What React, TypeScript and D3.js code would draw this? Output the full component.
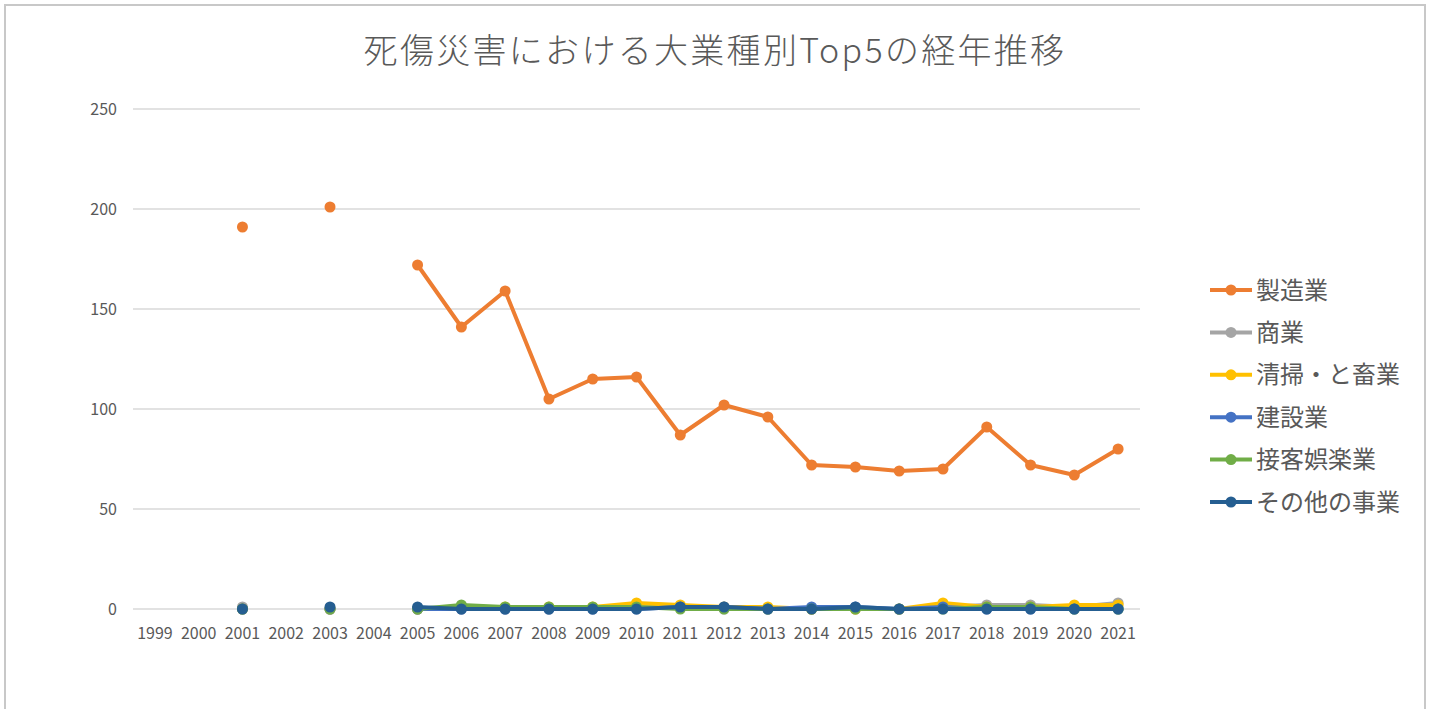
import React, { useEffect, useRef } from "react";
import * as d3 from "d3";

const years = [
  "1999", "2000", "2001", "2002", "2003", "2004", "2005", "2006", "2007", "2008", "2009",
  "2010", "2011", "2012", "2013", "2014", "2015", "2016", "2017", "2018", "2019", "2020", "2021",
];

// null = no data for that year
const seizo = [null, null, 191, null, 201, null, 172, 141, 159, 105, 115, 116, 87, 102, 96, 72, 71, 69, 70, 91, 72, 67, 80];
const shogyo = [null, null, 1, null, 0, null, 0, 0, 0, 0, 0, 1, 1, 0, 0, 0, 0, 0, 1, 2, 2, 1, 3];
const seiso = [null, null, 0, null, 0, null, 0, 1, 1, 1, 1, 3, 2, 1, 1, 0, 0, 0, 3, 1, 1, 2, 2];
const kensetsu = [null, null, 0, null, 0, null, 0, 0, 0, 0, 0, 0, 1, 1, 0, 1, 1, 0, 1, 0, 0, 0, 0];
const sekkyaku = [null, null, 0, null, 0, null, 0, 2, 1, 1, 1, 1, 0, 0, 0, 0, 0, 0, 0, 1, 1, 0, 0];
const sonota = [null, null, 0, null, 1, null, 1, 0, 0, 0, 0, 0, 1, 1, 0, 0, 1, 0, 0, 0, 0, 0, 0];

const seriesNames = ["製造業", "商業", "清掃・と畜業", "建設業", "接客娯楽業", "その他の事業"];
const seriesColors = ["#ed7d31", "#a5a5a5", "#ffc000", "#4472c4", "#70ad47", "#255e91"];
const yTicks = [0, 50, 100, 150, 200, 250];

const title = "死傷災害における大業種別Top5の経年推移";

const App = () => {
  const ref = useRef(null);

  useEffect(() => {
    const svg = d3.select(ref.current);
    svg.selectAll("*").remove();

    const allSeries = [seizo, shogyo, seiso, kensetsu, sekkyaku, sonota];
    const font = "'Noto Sans CJK JP', 'Open Sans', sans-serif";
    const textColor = "#595959";

    // chart frame (bottom edge runs off the picture)
    svg.append("path")
      .attr("d", "M5,709 L5,5 L1425,5 L1425,709")
      .attr("fill", "none")
      .attr("stroke", "#c8c8c8")
      .attr("stroke-width", 2);

    const x = d3.scaleBand().domain(years).range([133, 1140]);
    const y = d3.scaleLinear().domain([0, 250]).range([609, 109]);

    // gridlines
    svg.append("g")
      .selectAll("line")
      .data(yTicks)
      .enter()
      .append("line")
      .attr("x1", 133).attr("x2", 1140)
      .attr("y1", (d) => y(d)).attr("y2", (d) => y(d))
      .attr("stroke", "#d9d9d9").attr("stroke-width", 1.5);

    svg.append("g")
      .selectAll("text")
      .data(yTicks)
      .enter()
      .append("text")
      .attr("x", 117)
      .attr("y", (d) => y(d) + 5.5)
      .attr("text-anchor", "end")
      .attr("fill", textColor)
      .style("font-family", font)
      .style("font-size", "16px")
      .text((d) => d);

    svg.append("g")
      .selectAll("text")
      .data(years)
      .enter()
      .append("text")
      .attr("x", (d) => x(d) + x.bandwidth() / 2)
      .attr("y", 639)
      .attr("text-anchor", "middle")
      .attr("fill", textColor)
      .style("font-family", font)
      .style("font-size", "16px")
      .text((d) => d);

    // title
    svg.append("text")
      .attr("x", 715).attr("y", 63)
      .attr("text-anchor", "middle")
      .attr("fill", textColor)
      .style("font-family", font)
      .style("font-weight", 300)
      .style("font-size", "34px")
      .style("letter-spacing", "2.3px")
      .text(title);

    const line = d3.line()
      .defined((d) => d.v !== null)
      .x((d) => x(d.year) + x.bandwidth() / 2)
      .y((d) => y(d.v));

    allSeries.forEach((vals, i) => {
      const pts = vals.map((v, j) => ({ year: years[j], v }));
      const g = svg.append("g");
      g.append("path")
        .datum(pts)
        .attr("fill", "none")
        .attr("stroke", seriesColors[i])
        .attr("stroke-width", 4)
        .attr("stroke-linejoin", "round")
        .attr("d", line);
      g.selectAll("circle")
        .data(pts.filter((p) => p.v !== null))
        .enter()
        .append("circle")
        .attr("cx", (d) => x(d.year) + x.bandwidth() / 2)
        .attr("cy", (d) => y(d.v))
        .attr("r", 5.5)
        .attr("fill", seriesColors[i]);
    });

    // legend
    const legend = svg.append("g").attr("transform", "translate(1210,290)");
    seriesNames.forEach((name, i) => {
      const row = legend.append("g").attr("transform", `translate(0,${i * 42.4})`);
      row.append("line")
        .attr("x1", 0).attr("x2", 42)
        .attr("y1", 0).attr("y2", 0)
        .attr("stroke", seriesColors[i]).attr("stroke-width", 4);
      row.append("circle").attr("cx", 21).attr("cy", 0).attr("r", 5.5).attr("fill", seriesColors[i]);
      row.append("text")
        .attr("x", 46).attr("y", 8.5)
        .attr("fill", textColor)
        .style("font-family", font)
        .style("font-size", "24px")
        .text(name);
    });
  }, []);

  return (
    <svg
      ref={ref}
      width={1431}
      height={709}
      style={{ position: "absolute", left: 0, top: 0, display: "block", background: "#fff" }}
    ></svg>
  );
};

export default App;
